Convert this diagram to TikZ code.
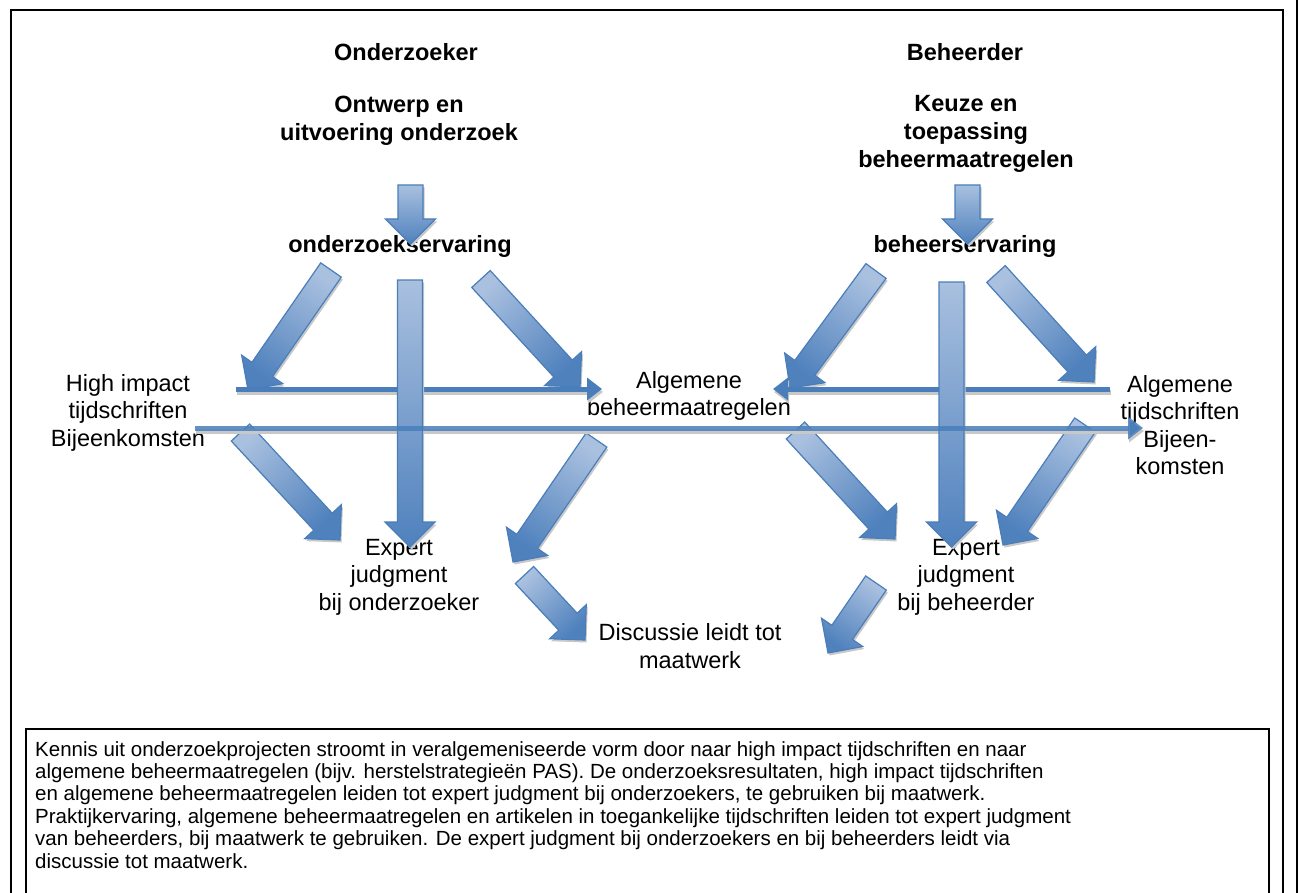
\documentclass[tikz,border=0pt]{standalone}
\usepackage{fontspec}
\setmainfont{Liberation Sans}
\usetikzlibrary{calc,arrows.meta}
\definecolor{abody}{HTML}{4F81BD}
\definecolor{alight}{HTML}{A9C0DF}
\definecolor{aline}{HTML}{4A7EBB}
\definecolor{ashadow}{HTML}{C8C8C8}
\tikzset{
  lbl/.style={align=center, inner sep=0pt, font=\fontsize{23.5}{27.5}\selectfont},
  hdr/.style={align=center, inner sep=0pt, font=\fontsize{23.5}{28}\selectfont\bfseries},
  bodytext/.style={align=left, inner sep=0pt, anchor=north west, font=\fontsize{20.5}{22.4}\selectfont},
  arrowbody/.style={draw=aline, line width=1.2pt, line join=miter, top color=alight, bottom color=abody},
  arrowshadow/.style={fill=ashadow, draw=none, transform canvas={shift={(1.5pt,-2.5pt)}}},
  thinline/.style={draw=aline, line width=5pt, -{Triangle[length=15pt,width=22pt]}},
  thinshadow/.style={draw=ashadow, line width=5pt, -{Triangle[length=15pt,width=22pt]}, transform canvas={shift={(1pt,-3pt)}}},
  frameline/.style={draw=black, line width=2pt},
}
\newcommand\blockarrow[2]{%
  \path let \p1=($(#2)-(#1)$) in \pgfextra{\pgfmathparse{atan2(\y1,\x1)+90}\xdef\bashade{\pgfmathresult}};
  \coordinate (bah) at ($(#2)!25pt!(#1)$);
  \path[arrowshadow] ($(#1)!12.5pt!90:(#2)$) -- ($(bah)!12.5pt!90:(#2)$) -- ($(bah)!25pt!90:(#2)$) -- (#2) -- ($(bah)!25pt!-90:(#2)$) -- ($(bah)!12.5pt!-90:(#2)$) -- ($(#1)!12.5pt!-90:(#2)$) -- cycle;
  \path[arrowbody, shading angle=\bashade] ($(#1)!12.5pt!90:(#2)$) -- ($(bah)!12.5pt!90:(#2)$) -- ($(bah)!25pt!90:(#2)$) -- (#2) -- ($(bah)!25pt!-90:(#2)$) -- ($(bah)!12.5pt!-90:(#2)$) -- ($(#1)!12.5pt!-90:(#2)$) -- cycle;
}
\begin{document}
\begin{tikzpicture}[x=1pt,y=-1pt]
\useasboundingbox (0,0) rectangle (1300,893);
\clip (0,0) rectangle (1300,893);
\fill[white] (0,0) rectangle (1300,893);

% frames
\draw[frameline] (11,900) -- (11,10) -- (1283,10) -- (1283,900);
\draw[frameline] (1297,-5) -- (1297,900);
\draw[black, line width=1.6pt] (26,900) -- (26,729) -- (1269,729) -- (1269,900);

% text
\node[hdr] (onderzoeker) at (406,52) {Onderzoeker};
\node[hdr] (beheerder) at (965,52) {Beheerder};
\node[hdr] (ontwerp) at (399,120.5) {Ontwerp en\\uitvoering onderzoek};
\node[hdr] (keuze) at (966,134) {Keuze en\\toepassing\\beheermaatregelen};
\node[hdr] (oervaring) at (400,246) {onderzoekservaring};
\node[hdr] (bervaring) at (965,246) {beheerservaring};
\node[lbl] (high) at (128,412.5) {High impact\\tijdschriften\\Bijeenkomsten};
\node[lbl] (algbeh) at (689,396) {Algemene\\beheermaatregelen};
\node[lbl] (algtijd) at (1180,425) {Algemene\\tijdschriften\\Bijeen-\\komsten};
\node[lbl] (expo) at (399,577) {Expert\\judgment\\bij onderzoeker};
\node[lbl] (expb) at (966,577) {Expert\\judgment\\bij beheerder};
\node[lbl] (disc) at (690,646) {Discussie leidt tot\\maatwerk};
\node[bodytext] (uitleg) at (35,741) {Kennis uit onderzoekprojecten stroomt in veralgemeniseerde vorm door naar high impact tijdschriften en naar\\
algemene beheermaatregelen (bijv. herstelstrategieën PAS). De onderzoeksresultaten, high impact tijdschriften\\
en algemene beheermaatregelen leiden tot expert judgment bij onderzoekers, te gebruiken bij maatwerk.\\
Praktijkervaring, algemene beheermaatregelen en artikelen in toegankelijke tijdschriften leiden tot expert judgment\\
van beheerders, bij maatwerk te gebruiken. De expert judgment bij onderzoekers en bij beheerders leidt via\\
discussie tot maatwerk.};

% arrow end points
\coordinate (a1s) at (410.5,185);  \coordinate (a1e) at (410.5,244);
\coordinate (a2s) at (967.5,185);  \coordinate (a2e) at (967.5,244);
\coordinate (a3s) at (410,280);    \coordinate (a3e) at (410,547);
\coordinate (a4s) at (951.5,282);  \coordinate (a4e) at (951.5,547);
\coordinate (a5s) at (331,270);    \coordinate (a5e) at (248,390);
\coordinate (a6s) at (481,279);    \coordinate (a6e) at (580,387);
\coordinate (a7s) at (876,271);    \coordinate (a7e) at (790,388);
\coordinate (a8s) at (996,274);    \coordinate (a8e) at (1094,382);
\coordinate (a9s) at (240.5,432.5);\coordinate (a9e) at (340,540);
\coordinate (a10s) at (596.5,440); \coordinate (a10e) at (513,562);
\coordinate (a11s) at (524.5,575); \coordinate (a11e) at (585,640);
\coordinate (a12s) at (795.5,430.5);\coordinate (a12e) at (895,539);
\coordinate (a13s) at (1085,425);  \coordinate (a13e) at (1003,545);
\coordinate (a14s) at (876,583);   \coordinate (a14e) at (828,653);

\coordinate (l1s) at (236,389);  \coordinate (l1e) at (602,389);
\coordinate (l2s) at (1110,389); \coordinate (l2e) at (773,389);
\coordinate (l3s) at (195,428);  \coordinate (l3e) at (1143,428);

\blockarrow{a1s}{a1e}
\blockarrow{a2s}{a2e}
\blockarrow{a5s}{a5e}
\blockarrow{a6s}{a6e}
\blockarrow{a7s}{a7e}
\blockarrow{a8s}{a8e}
\blockarrow{a9s}{a9e}
\blockarrow{a10s}{a10e}
\blockarrow{a11s}{a11e}
\blockarrow{a12s}{a12e}
\blockarrow{a13s}{a13e}
\blockarrow{a14s}{a14e}

\path[thinshadow] (l1s) -- (l1e);
\path[thinshadow] (l2s) -- (l2e);
\path[thinshadow] (l3s) -- (l3e);
\path[thinline] (l1s) -- (l1e);
\path[thinline] (l2s) -- (l2e);

\blockarrow{a3s}{a3e}
\blockarrow{a4s}{a4e}

\path[thinline, draw opacity=0.85] (l3s) -- (l3e);
\end{tikzpicture}
\end{document}
